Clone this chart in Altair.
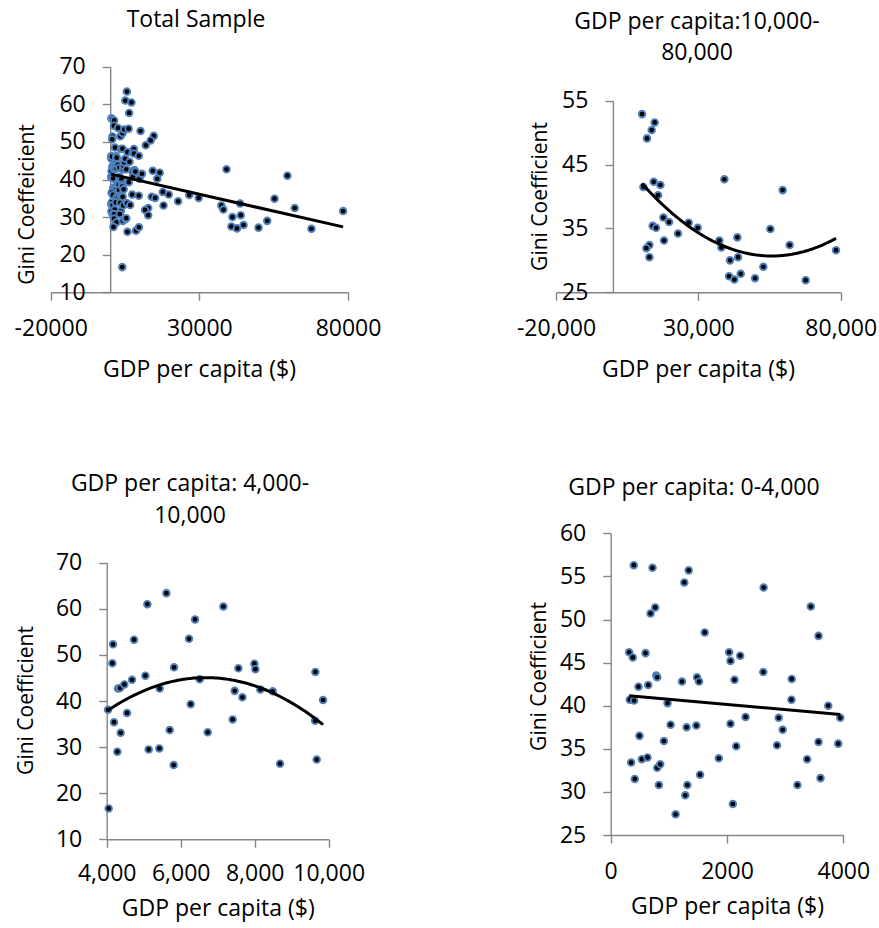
import altair as alt
import pandas as pd

# ---------------- data ----------------
# GDP per capita 10,000-80,000
high_gdp = [10220, 14670, 13615, 11975, 10690, 14320, 16660, 15840, 17710, 19700,
            13967, 15137, 22863, 17946, 12795, 11741, 12795, 26610, 29770, 39135,
            37380, 38080, 43700, 41125, 43935, 40770, 42646, 44870, 49905, 52830,
            55290, 59620, 62080, 67700, 78350]
high_gini = [52.9, 51.6, 50.4, 49.1, 41.5, 42.3, 41.8, 40.2, 36.7, 36.0,
             35.4, 35.1, 34.2, 33.1, 32.4, 31.9, 30.5, 35.9, 35.1, 42.7,
             33.1, 32.0, 33.6, 30.0, 30.5, 27.5, 27.0, 27.9, 27.2, 29.0,
             34.9, 41.0, 32.4, 26.9, 31.6]

# GDP per capita 4,000-10,000
mid_gdp = [4054, 4036, 4153, 4171, 4198, 4378, 4288, 4306, 4360, 4477,
           4550, 4685, 4739, 5045, 5099, 5135, 5423, 5432, 5613, 5703,
           5811, 5820, 6225, 6270, 6387, 6514, 6730, 7153, 7405, 7459,
           7559, 7667, 7991, 8018, 8153, 8487, 8685, 9640, 9631, 9676, 9847]
mid_gini = [16.7, 38.1, 48.2, 52.3, 35.4, 33.1, 29.0, 42.7, 42.8, 43.6,
            37.4, 44.6, 53.3, 45.5, 61.0, 29.5, 29.7, 42.7, 63.4, 33.7,
            26.1, 47.3, 53.5, 39.3, 57.7, 44.7, 33.2, 60.5, 36.0, 42.2,
            47.1, 40.8, 48.1, 46.9, 42.5, 42.1, 26.4, 46.3, 35.7, 27.3, 40.2]

# GDP per capita 0-4,000
low_gdp = [397, 719, 1341, 1266, 2630, 765, 685, 3441, 3574, 1617,
           317, 380, 599, 2037, 2060, 2227, 783, 800, 645, 478,
           1226, 1485, 1519, 2129, 2624, 3113, 3108, 3741, 328, 403,
           978, 1030, 1306, 1473, 2060, 2319, 2889, 2958, 3948, 495,
           915, 2158, 2860, 3574, 3913, 351, 535, 633, 800, 852,
           1859, 3378, 414, 1537, 3608, 829, 1318, 3211, 1283, 2101, 1116]
low_gini = [56.3, 56.0, 55.7, 54.3, 53.7, 51.4, 50.7, 51.5, 48.1, 48.5,
            46.2, 45.6, 46.1, 46.2, 45.2, 45.8, 43.5, 43.3, 42.4, 42.2,
            42.8, 43.3, 42.8, 43.0, 43.9, 43.1, 40.7, 40.0, 40.7, 40.6,
            40.3, 37.8, 37.5, 37.7, 37.9, 38.7, 38.6, 37.2, 38.6, 36.5,
            35.9, 35.3, 35.4, 35.8, 35.6, 33.4, 33.8, 34.0, 32.8, 33.2,
            33.9, 33.8, 31.5, 32.0, 31.6, 30.8, 30.8, 30.8, 29.6, 28.6, 27.4]

titles = ["Total Sample", "GDP per capita:10,000-\n80,000",
          "GDP per capita: 4,000-\n10,000", "GDP per capita: 0-4,000"]
x_title = "GDP per capita ($)"
y_titles = ["Gini Coeffeicient", "Gini Coefficient", "Gini Coefficient", "Gini Coefficient"]

x_ticks = [[-20000, 30000, 80000], [-20000, 30000, 80000], [4000, 6000, 8000, 10000], [0, 2000, 4000]]
y_ticks = [[10, 20, 30, 40, 50, 60, 70], [25, 35, 45, 55], [10, 20, 30, 40, 50, 60, 70],
           [25, 30, 35, 40, 45, 50, 55, 60]]

df_high = pd.DataFrame({"gdp": high_gdp, "gini": high_gini})
df_mid = pd.DataFrame({"gdp": mid_gdp, "gini": mid_gini})
df_low = pd.DataFrame({"gdp": low_gdp, "gini": low_gini})
df_all = pd.concat([df_low, df_mid, df_high], ignore_index=True)

# ---------------- styling ----------------
FONT = "Open Sans"
FS = 23
YFS = 21
AX = "#868686"
BLUE = "#4F81BD"
WL, WR, H = 439, 440, 464


def panel(df, idx, width, xrange, yrange, yaxis_px, xaxis_px, xfmt,
          ytitle_x, ytitle_y, xtitle_x, xtitle_y, title_xy, line_h, method, order,
          xlabpad=17):
    common = dict(domainColor=AX, tickColor=AX, domainWidth=1.4, tickWidth=1.4,
                  tickSize=8, grid=False, labelFont=FONT, labelFontSize=FS,
                  labelColor="black", titleFont=FONT,
                  titleFontWeight="normal", titleColor="black",
                  labelFlush=False, labelOverlap=False, labelBound=False)
    xs = alt.X("gdp:Q",
               scale=alt.Scale(domain=[x_ticks[idx][0], x_ticks[idx][-1]],
                               range=xrange, nice=False, zero=False),
               axis=alt.Axis(values=x_ticks[idx], format=xfmt,
                             labelExpr="replace(datum.label, '\u2212', '-')",
                             title=x_title, offset=xaxis_px - H,
                             labelPadding=xlabpad, titleFontSize=FS,
                             titleX=xtitle_x, titleY=xtitle_y,
                             titleAlign="center", titleBaseline="alphabetic",
                             **common))
    ys = alt.Y("gini:Q",
               scale=alt.Scale(domain=[y_ticks[idx][0], y_ticks[idx][-1]],
                               range=yrange, nice=False, zero=False),
               axis=alt.Axis(values=y_ticks[idx], title=y_titles[idx],
                             offset=-yaxis_px, labelPadding=17, titleFontSize=YFS,
                             titleAngle=-90, titleX=ytitle_x, titleY=ytitle_y,
                             titleAlign="center", titleBaseline="alphabetic",
                             **common))
    base = alt.Chart(df)
    pts = base.mark_circle(fill="black", stroke=BLUE, strokeWidth=1.9,
                           size=44, opacity=1).encode(x=xs, y=ys)
    if method == "linear":
        reg = base.transform_regression("gdp", "gini", method="linear")
    else:
        reg = base.transform_regression("gdp", "gini", method="poly", order=order)
    line = reg.mark_line(color="black", strokeWidth=3).encode(x=xs, y=ys)
    ttl = alt.Chart(pd.DataFrame({"t": [titles[idx]]})).mark_text(
        font=FONT, fontSize=FS, color="black", align="center",
        baseline="alphabetic", lineBreak="\n", lineHeight=line_h
    ).encode(text="t:N", x=alt.value(title_xy[0]), y=alt.value(title_xy[1]))
    return alt.layer(pts, line, ttl).properties(width=width, height=H)


p1 = panel(df_all, 0, WL, [50.7, 348.0], [292.3, 66.7], 110.2, 292.3, "d",
           -77, 204, 199, 83.7, (196, 27), 28, "linear", 1)
p2 = panel(df_high, 1, WR, [117.0, 401.7], [292.3, 100.7], 173.9, 292.3, ",d",
           -66, 196, 259, 83.7, (258, 29), 31, "poly", 2)
p3 = panel(df_mid, 2, WL, [106.7, 328.7], [375.3, 98.7], 106.7, 375.3, ",d",
           -74, 236, 217.7, 75.7, (190, 27), 32, "poly", 2, xlabpad=15.5)
p4 = panel(df_low, 3, WR, [171.7, 404.3], [371.0, 69.3], 171.7, 371.0, "d",
           -65, 212, 288, 78.3, (255, 31), 28, "linear", 1)

chart = alt.concat(p1, p2, p3, p4, columns=2, spacing=0, bounds="flush").properties(
    padding=0
).configure_view(stroke=None)

chart.save("out.html", embed_options={"renderer": "svg", "actions": False})
